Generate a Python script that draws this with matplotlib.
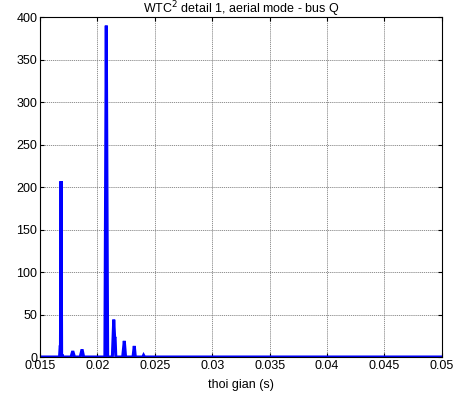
import matplotlib.pyplot as plt

# time (s) and WTC^2 coefficient
t = [0.015, 0.01670, 0.01675, 0.01678, 0.01683, 0.01688, 0.01692, 0.01696,
     0.01770, 0.01785, 0.01800, 0.01850, 0.01866, 0.01880,
     0.02065, 0.02077, 0.02089,
     0.02130, 0.02142, 0.02150, 0.02154, 0.02160,
     0.02220, 0.02234, 0.02245,
     0.02310, 0.02321, 0.02330,
     0.02395, 0.02402, 0.02410, 0.05]
q = [0, 0, 12, 12, 207, 0, 3, 0,
     0, 7, 0, 0, 9, 0,
     0, 390, 0,
     0, 44, 22, 22, 0,
     0, 19, 0,
     0, 13, 0,
     0, 2, 0, 0]

xticks = [0.015, 0.02, 0.025, 0.03, 0.035, 0.04, 0.045, 0.05]
xticklabels = ['0.015', '0.02', '0.025', '0.03', '0.035', '0.04', '0.045', '0.05']
yticks = [0, 50, 100, 150, 200, 250, 300, 350, 400]


def main():
    plt.rcParams['font.family'] = 'Liberation Sans'
    plt.rcParams['font.size'] = 9
    fig = plt.figure(figsize=(4.55, 3.98), dpi=100)
    ax = fig.add_axes([0.088, 0.103, 0.883, 0.854])

    ax.plot(t, q, color='#0000ff', lw=2.2, solid_joinstyle='miter')
    ax.set_xlim(0.015, 0.05)
    ax.set_ylim(0, 400)
    ax.set_xticks(xticks)
    ax.set_xticklabels(xticklabels)
    ax.set_yticks(yticks)
    ax.grid(True, color='0.5', lw=0.6, ls=(0, (1.5, 1)))
    ax.tick_params(direction='in', top=True, right=True, length=3, pad=2)
    for s in ax.spines.values():
        s.set_linewidth(0.8)
    ax.set_xlabel('thoi gian (s)', labelpad=5)
    ax.set_title('WTC$^2$ detail 1, aerial mode - bus Q', fontsize=9, pad=3)

    fig.savefig('out.png', dpi=100)


if __name__ == '__main__':
    main()
